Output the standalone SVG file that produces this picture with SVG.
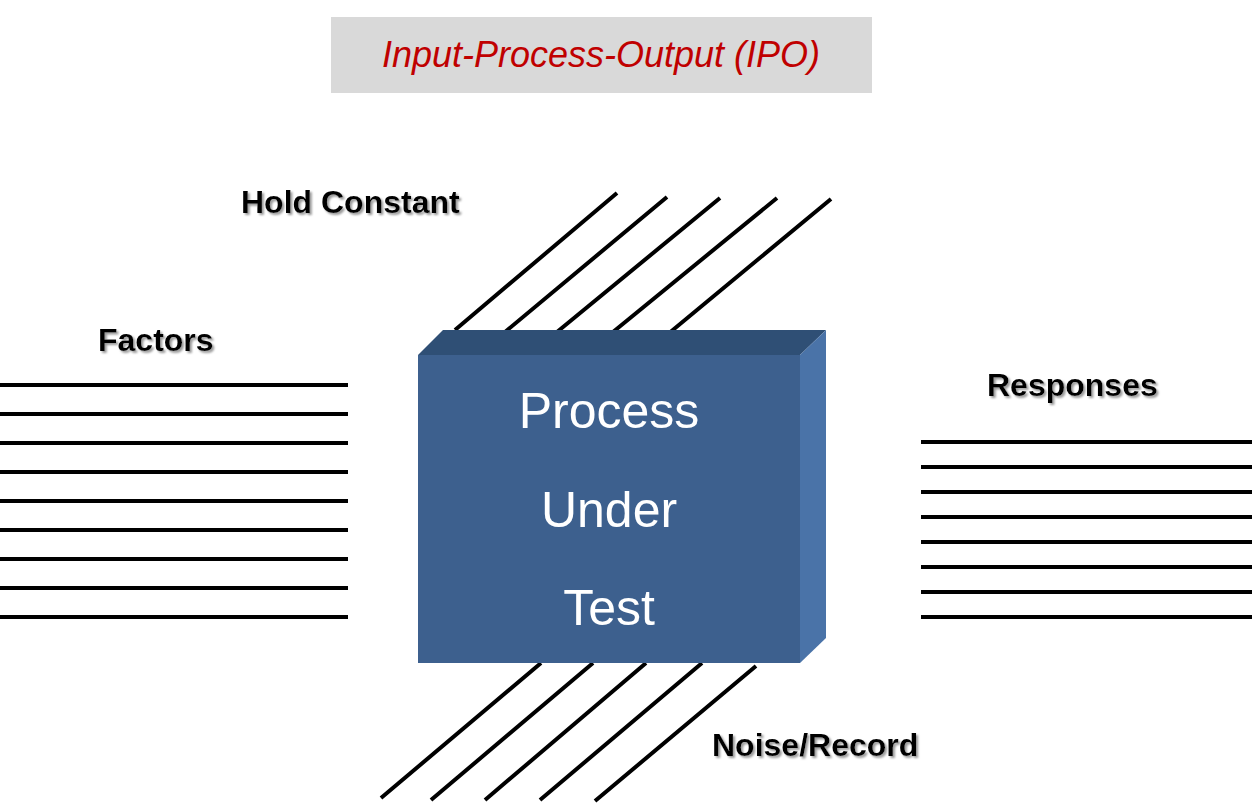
<svg xmlns="http://www.w3.org/2000/svg" width="1255" height="808" viewBox="0 0 1255 808">
<defs>
<filter id="sh" x="-5%" y="-20%" width="110%" height="150%"><feDropShadow dx="2" dy="2" stdDeviation="1" flood-color="#999"/></filter>
</defs>
<style>
.l{stroke:#000;stroke-width:4;fill:none}
.lab{font-family:"Liberation Sans",Arial,sans-serif;font-weight:bold;font-size:32px;fill:#000;filter:url(#sh)}
.pt{font-family:"Liberation Sans",Arial,sans-serif;font-size:50px;fill:#fff;text-anchor:middle}
</style>
<rect width="1255" height="808" fill="#fff"/>
<g id="title">
<rect x="331" y="17" width="541" height="76" fill="#d9d9d9"/>
<text x="601" y="67" text-anchor="middle" font-family="Liberation Sans,Arial,sans-serif" font-style="italic" font-size="36" fill="#c00000">Input-Process-Output (IPO)</text>
</g>
<g id="connectors">
<path class="l" d="M455 330L617 193M505 332L667 197M557 332L720 198M613 332L777 198M668 334L831 199"/>
<path class="l" d="M541 663L381 798M593 663L431 800M646 663L485 800M702 663L540 800M756 666L595 801"/>
<path class="l" d="M0 385H348M0 414H348M0 443H348M0 472H348M0 501H348M0 530H348M0 559H348M0 588H348M0 617H348"/>
<path class="l" d="M921 442H1252M921 467H1252M921 492H1252M921 517H1252M921 542H1252M921 567H1252M921 592H1252M921 617H1252"/>
</g>
<g id="process">
<polygon points="418,355 443,330 826,330 800,355" fill="#2f4f75"/>
<polygon points="800,355 826,330 826,638 800,663" fill="#4a73a8"/>
<rect x="418" y="355" width="382" height="308" fill="#3d608e"/>
<text class="pt" x="609" y="428">Process</text>
<text class="pt" x="609" y="527">Under</text>
<text class="pt" x="609" y="625">Test</text>
</g>
<g id="hold"><text class="lab" x="241" y="213">Hold Constant</text></g>
<g id="factors"><text class="lab" x="98" y="351">Factors</text></g>
<g id="responses"><text class="lab" x="987" y="396">Responses</text></g>
<g id="noise"><text class="lab" x="712" y="756">Noise/Record</text></g>
</svg>
